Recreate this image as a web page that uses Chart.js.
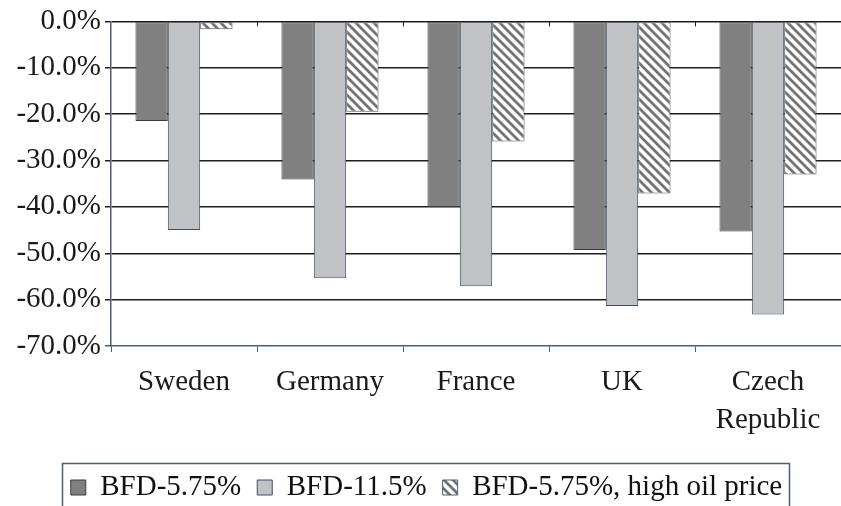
<!DOCTYPE html>
<html>
<head>
<meta charset="utf-8">
<script src="https://cdn.jsdelivr.net/npm/chart.js@4/dist/chart.umd.min.js"></script>
<style>
  html, body { margin: 0; padding: 0; background: #fff; overflow: hidden; }
  #wrap { width: 841px; height: 512px; position: relative; }
</style>
</head>
<body>
<div id="wrap"><canvas id="c"></canvas></div>
<script>
// Categories and series (change in %)
const categories = ['Sweden', 'Germany', 'France', 'UK', ['Czech', 'Republic']];
const bfd575 = [-21.5, -34.1, -40.0, -49.3, -45.3];
const bfd115 = [-45.0, -55.4, -57.1, -61.4, -63.2];
const bfd575HighOil = [-1.7, -19.5, -25.9, -37.1, -33.0];
const seriesNames = ['BFD-5.75%', 'BFD-11.5%', 'BFD-5.75%, high oil price'];
const yMin = -70, yMax = 0, yStep = 10;

const axisColor = '#4a5f78';
const gridColor = '#1e1e1e';
const serif = '"Liberation Serif", "Times New Roman", serif';

// Diagonal hatch fill
function makeHatch() {
  const s = 9;
  const p = document.createElement('canvas');
  p.width = s; p.height = s;
  const g = p.getContext('2d');
  g.fillStyle = '#ffffff';
  g.fillRect(0, 0, s, s);
  g.strokeStyle = '#737373';
  g.lineWidth = 2.8;
  g.beginPath();
  g.moveTo(-2, -2); g.lineTo(s + 2, s + 2);
  g.moveTo(-2 - s, -2); g.lineTo(2, s + 2);
  g.moveTo(s - 2, -2); g.lineTo(2 * s + 2, s + 2);
  g.stroke();
  return g.createPattern(p, 'repeat');
}
const hatch = makeHatch();

// Small tick marks hanging from the zero line at category boundaries
const zeroLineTicks = {
  id: 'zeroLineTicks',
  afterDraw(chart) {
    const x = chart.scales.x, y = chart.scales.y;
    const ctx = chart.ctx;
    const y0 = y.getPixelForValue(0);
    const n = chart.data.labels.length;
    const w = (x.right - x.left) / n;
    ctx.save();
    ctx.strokeStyle = gridColor;
    ctx.lineWidth = 1;
    for (let i = 1; i < n; i++) {
      const px = Math.round(x.left + i * w) + 0.5;
      ctx.beginPath();
      ctx.moveTo(px, y0);
      ctx.lineTo(px, y0 + 5);
      ctx.stroke();
    }
    ctx.restore();
  }
};

// Frame around the legend
const legendFrame = {
  id: 'legendFrame',
  afterDraw(chart) {
    const boxes = chart.legend && chart.legend.legendHitBoxes;
    if (!boxes || !boxes.length) return;
    const left = Math.min(...boxes.map(b => b.left)) - 9;
    const right = Math.max(...boxes.map(b => b.left + b.width)) + 7;
    const top = Math.min(...boxes.map(b => b.top)) - 10;
    const ctx = chart.ctx;
    ctx.save();
    ctx.strokeStyle = axisColor;
    ctx.lineWidth = 1.5;
    ctx.strokeRect(Math.round(left) + 0.5, Math.round(top) + 0.5, Math.round(right - left), chart.height - top + 20);
    ctx.restore();
  }
};

new Chart(document.getElementById('c'), {
  type: 'bar',
  data: {
    labels: categories,
    datasets: [
      { label: seriesNames[0], data: bfd575, backgroundColor: '#808080', borderColor: '#3a3a3a', borderWidth: 1 },
      { label: seriesNames[1], data: bfd115, backgroundColor: '#c1c2c6', borderColor: '#3e4f63', borderWidth: 1 },
      { label: seriesNames[2], data: bfd575HighOil, backgroundColor: hatch, borderColor: '#4a5a70', borderWidth: 1 }
    ]
  },
  plugins: [zeroLineTicks, legendFrame],
  options: {
    responsive: true,
    maintainAspectRatio: false,
    animation: false,
    layout: { padding: { top: 20, right: 0, left: 12, bottom: 0 } },
    datasets: { bar: { categoryPercentage: 0.665, barPercentage: 1.0, borderSkipped: false } },
    scales: {
      x: {
        position: 'bottom',
        offset: true,
        afterFit(scale) { scale.height = 111; },
        border: { display: true, color: axisColor, width: 1.5 },
        grid: { offset: true, drawOnChartArea: false, drawTicks: true, tickLength: 6, tickColor: axisColor, lineWidth: 1 },
        ticks: { color: '#1a1a1a', padding: 11, maxRotation: 0, autoSkip: false, font: { family: serif, size: 29, lineHeight: 1.31 } }
      },
      y: {
        min: yMin, max: yMax,
        afterFit(scale) { scale.width = 99; },
        border: { display: true, color: axisColor, width: 1.5 },
        grid: {
          color: ctx => (ctx.tick && ctx.tick.value === yMin) ? 'rgba(0,0,0,0)' : gridColor,
          lineWidth: 1.5,
          tickLength: 6,
          tickColor: ctx => (ctx.tick && ctx.tick.value === yMin) ? axisColor : gridColor
        },
        ticks: {
          stepSize: yStep,
          color: '#1a1a1a',
          padding: 4,
          font: { family: serif, size: 29 },
          callback: v => v.toFixed(1) + '%'
        }
      }
    },
    plugins: {
      legend: {
        position: 'bottom',
        labels: {
          color: '#111',
          boxWidth: 15,
          boxHeight: 15,
          padding: 16,
          font: { family: serif, size: 29 }
        }
      },
      tooltip: { enabled: false }
    }
  }
});
</script>
</body>
</html>
